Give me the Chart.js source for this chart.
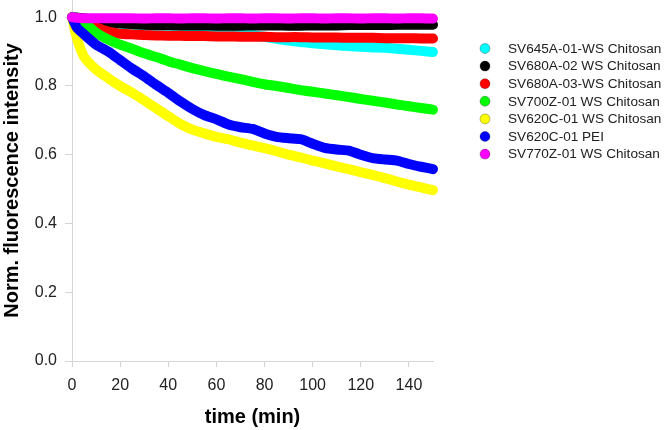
<!DOCTYPE html>
<html>
<head>
<meta charset="utf-8">
<script src="https://cdn.jsdelivr.net/npm/chart.js@4"></script>
<style>
  body { margin: 0; background: #fff; }
  #wrap { width: 666px; height: 430px; }
</style>
</head>
<body>
<div id="wrap"><canvas id="myChart"></canvas></div>
<script>
// time points (min)
const times = [0, 2, 5, 10, 15, 20, 25, 30, 35, 40, 45, 50, 55, 60, 65, 70, 75, 80, 85, 90, 95, 100, 105, 110, 115, 120, 125, 130, 135, 140, 145, 150];

// normalised fluorescence
const sv645a = [1.0, 0.997, 0.99, 0.98, 0.975, 0.972, 0.97, 0.969, 0.968, 0.967, 0.966, 0.965, 0.964, 0.962, 0.958, 0.953, 0.948, 0.943, 0.937, 0.932, 0.928, 0.924, 0.921, 0.918, 0.916, 0.914, 0.912, 0.911, 0.908, 0.905, 0.902, 0.899];
const sv680a02 = [1.0, 0.999, 0.997, 0.99, 0.985, 0.982, 0.98, 0.978, 0.977, 0.977, 0.976, 0.976, 0.976, 0.975, 0.975, 0.975, 0.976, 0.976, 0.976, 0.975, 0.975, 0.976, 0.976, 0.976, 0.977, 0.977, 0.977, 0.977, 0.978, 0.978, 0.978, 0.978];
const sv680a03 = [1.0, 0.995, 0.985, 0.97, 0.958, 0.952, 0.95, 0.948, 0.947, 0.946, 0.946, 0.945, 0.945, 0.944, 0.944, 0.943, 0.943, 0.943, 0.942, 0.942, 0.942, 0.941, 0.941, 0.941, 0.94, 0.94, 0.94, 0.939, 0.939, 0.939, 0.938, 0.938];
const sv700z = [1.0, 0.997, 0.985, 0.955, 0.935, 0.92, 0.908, 0.895, 0.884, 0.872, 0.862, 0.852, 0.843, 0.835, 0.827, 0.82, 0.812, 0.805, 0.8, 0.794, 0.788, 0.783, 0.778, 0.773, 0.768, 0.762, 0.757, 0.752, 0.746, 0.741, 0.736, 0.731];
const sv620cWs = [1.0, 0.94, 0.885, 0.848, 0.823, 0.8, 0.78, 0.758, 0.735, 0.712, 0.69, 0.673, 0.662, 0.652, 0.645, 0.635, 0.627, 0.619, 0.61, 0.6, 0.592, 0.583, 0.575, 0.566, 0.558, 0.549, 0.541, 0.532, 0.522, 0.513, 0.505, 0.497];
const sv620cPei = [1.0, 0.97, 0.95, 0.92, 0.9, 0.875, 0.85, 0.828, 0.803, 0.78, 0.755, 0.733, 0.715, 0.703, 0.688, 0.68, 0.675, 0.662, 0.652, 0.648, 0.645, 0.632, 0.62, 0.615, 0.612, 0.6, 0.59, 0.586, 0.583, 0.573, 0.565, 0.558];
const sv770z = [1.0, 0.998, 0.997, 0.997, 0.997, 0.997, 0.997, 0.996, 0.997, 0.997, 0.996, 0.997, 0.997, 0.996, 0.997, 0.997, 0.996, 0.997, 0.997, 0.996, 0.997, 0.997, 0.996, 0.997, 0.997, 0.996, 0.997, 0.997, 0.996, 0.997, 0.997, 0.996];

const seriesNames = ['SV645A-01-WS Chitosan', 'SV680A-02 WS Chitosan', 'SV680A-03-WS Chitosan', 'SV700Z-01 WS Chitosan', 'SV620C-01 WS Chitosan', 'SV620C-01 PEI', 'SV770Z-01 WS Chitosan'];
const seriesValues = [sv645a, sv680a02, sv680a03, sv700z, sv620cWs, sv620cPei, sv770z];
const seriesColors = ['#00ffff', '#000000', '#ff0000', '#00ff00', '#ffff00', '#0000ff', '#ff00ff'];

const xTicks = [0, 20, 40, 60, 80, 100, 120, 140];
const yTicks = [0, 0.2, 0.4, 0.6, 0.8, 1.0];

const axisColor = '#d4d4d4';
const textColor = '#222';

// legend drawn on the right side, in dataset order
const sideLegend = {
    id: 'sideLegend',
    afterDraw(chart) {
        const c = chart.ctx;
        c.save();
        c.font = '13.6px "Liberation Sans", Arial, sans-serif';
        c.textBaseline = 'middle';
        c.textAlign = 'left';
        chart.data.datasets.forEach((ds, i) => {
            const y = 48.5 + i * 17.6;
            c.beginPath();
            c.arc(485, y, 5, 0, Math.PI * 2);
            c.fillStyle = ds.borderColor;
            c.fill();
            c.lineWidth = 0.8;
            c.strokeStyle = 'rgba(0,0,0,0.35)';
            c.stroke();
            c.fillStyle = textColor;
            c.fillText(ds.label, 508, y + 0.5);
        });
        c.restore();
    }
};

const datasets = seriesNames.map((name, i) => ({
    label: name,
    data: times.map((t, j) => ({ x: t, y: seriesValues[i][j] })),
    borderColor: seriesColors[i],
    backgroundColor: seriesColors[i],
    borderWidth: 10,
    borderCapStyle: 'round',
    borderJoinStyle: 'round',
    pointRadius: 0,
    tension: 0.2,
    clip: false,
    order: seriesNames.length - i
}));

const ctx = document.getElementById('myChart').getContext('2d');
const myChart = new Chart(ctx, {
    type: 'line',
    data: { datasets: datasets },
    options: {
        responsive: true,
        maintainAspectRatio: false,
        devicePixelRatio: 1,
        animation: false,
        layout: {
            autoPadding: false,
            padding: { left: 0, right: 233, top: 0, bottom: 0 }
        },
        plugins: {
            legend: { display: false },
            tooltip: { enabled: false }
        },
        scales: {
            x: {
                type: 'linear',
                min: 0,
                max: 150,
                afterFit: s => { s.height = 69; s.paddingLeft = 0; s.paddingRight = 0; },
                afterBuildTicks: s => { s.ticks = xTicks.map(v => ({ value: v })); },
                grid: { drawOnChartArea: false, drawTicks: true, tickLength: 6, color: axisColor },
                border: { color: axisColor },
                ticks: {
                    padding: 9,
                    color: textColor,
                    maxRotation: 0,
                    font: { family: '"Liberation Sans", Arial, sans-serif', size: 16 }
                },
                title: {
                    display: true,
                    text: 'time (min)',
                    color: '#000',
                    padding: { top: 0, bottom: 1 },
                    font: { family: '"Liberation Sans", Arial, sans-serif', size: 20, weight: 'bold' }
                }
            },
            y: {
                min: 0,
                max: 1.05,
                afterFit: s => { s.width = 72; s.paddingTop = 0; s.paddingBottom = 0; },
                afterBuildTicks: s => { s.ticks = yTicks.map(v => ({ value: v })); },
                grid: { drawOnChartArea: false, drawTicks: true, tickLength: 7, color: axisColor },
                border: { color: axisColor },
                ticks: {
                    padding: 8,
                    color: textColor,
                    callback: v => v.toFixed(1),
                    font: { family: '"Liberation Sans", Arial, sans-serif', size: 16 }
                },
                title: {
                    display: true,
                    text: 'Norm. fluorescence intensity',
                    color: '#000',
                    padding: { top: 0, bottom: 0 },
                    font: { family: '"Liberation Sans", Arial, sans-serif', size: 20, weight: 'bold' }
                }
            }
        }
    },
    plugins: [sideLegend]
});
</script>
</body>
</html>
